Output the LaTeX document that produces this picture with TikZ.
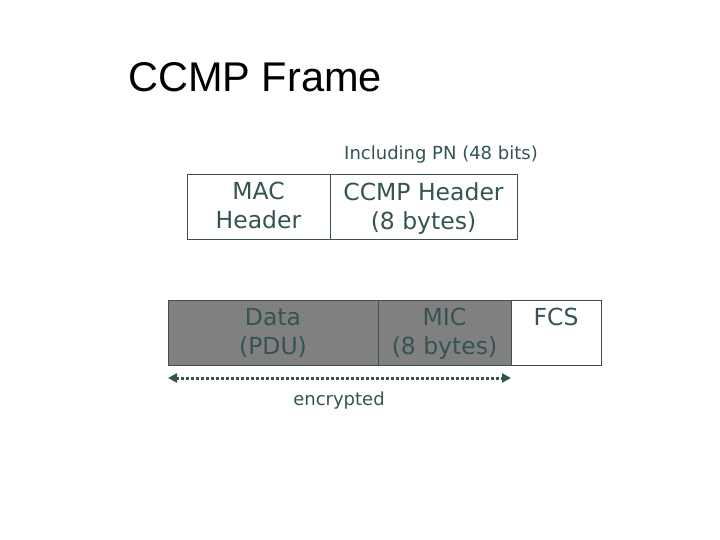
\documentclass[tikz,border=0pt]{standalone}
\usepackage{fontspec}
\setmainfont{DejaVu Sans}
\newfontfamily\titlefont{Liberation Sans}
\usetikzlibrary{arrows.meta}
\definecolor{textc}{RGB}{52,84,84}
\definecolor{boxline}{RGB}{60,80,80}
\definecolor{grayfill}{RGB}{128,128,128}
\tikzset{
  fieldbox/.style={draw=boxline, line width=0.9pt},
  encbox/.style={fieldbox, fill=grayfill},
  bigtxt/.style={text=textc, font=\fontsize{23.5}{29}\selectfont, align=center, anchor=north, inner sep=0pt},
  smalltxt/.style={text=textc, font=\fontsize{18}{21}\selectfont, inner sep=0pt},
}
\begin{document}
\begin{tikzpicture}[x=1pt,y=-1pt]
\useasboundingbox (0,0) rectangle (720,540);
\node[font=\titlefont\fontsize{41.5}{45}\selectfont, anchor=base west, inner sep=0pt] (title) at (128,92) {CCMP Frame};
\node[smalltxt, anchor=base] (pn) at (441,160) {Including PN (48 bits)};
% top boxes
\draw[fieldbox] (187,174) rectangle (330,239);
\draw[fieldbox] (330,174) rectangle (517,239);
\node[bigtxt] (mac) at (258.5,182) {MAC\\Header};
\node[bigtxt] (ccmp) at (423.5,182) {CCMP Header\\(8 bytes)};
% bottom boxes
\draw[encbox] (168,300) rectangle (378,365);
\draw[encbox] (378,300) rectangle (511,365);
\draw[fieldbox] (511,300) rectangle (601,365);
\node[bigtxt] (data) at (273,308) {Data\\(PDU)};
\node[bigtxt] (mic) at (444.5,308) {MIC\\(8 bytes)};
\node[bigtxt] (fcs) at (556,308) {FCS};
% arrow
\coordinate (al) at (168,378);
\coordinate (ar) at (511,378);
\draw[textc, line width=3pt, dash pattern=on 3pt off 2pt, {Triangle[length=9pt,width=9pt]}-{Triangle[length=9pt,width=9pt]}] (al) -- (ar);
\node[smalltxt, anchor=base] (enc) at (339,405) {encrypted};
\end{tikzpicture}
\end{document}
